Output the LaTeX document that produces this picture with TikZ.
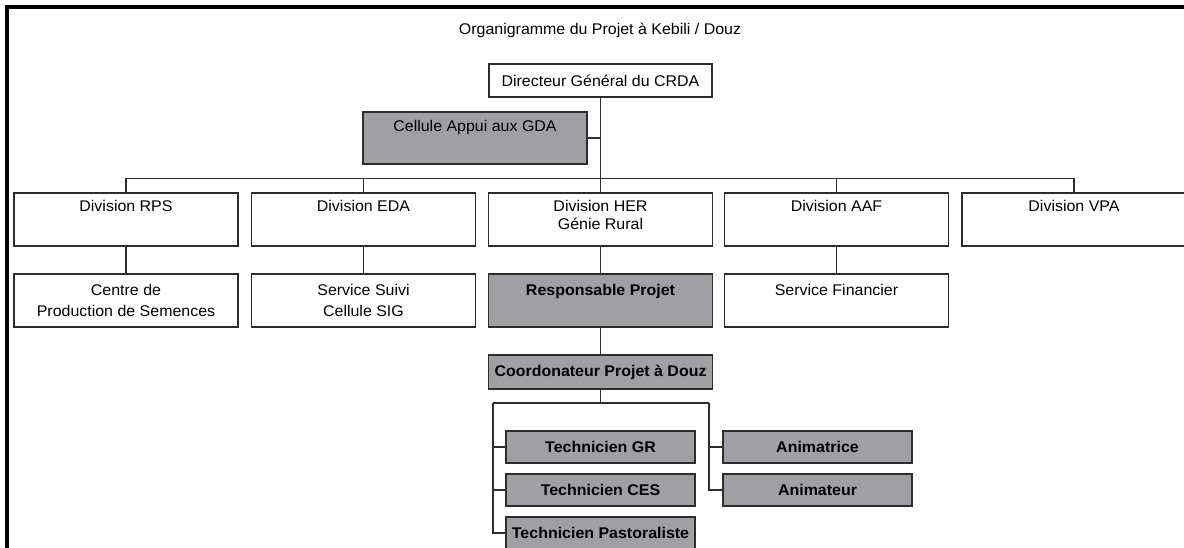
\documentclass[tikz,border=0pt]{standalone}
\usepackage{fontspec}
\setmainfont{Liberation Sans}[FakeStretch=1.03]
\usepackage{xcolor}
\usepackage{tikz}
\definecolor{cellgray}{RGB}{160, 160, 164}
\definecolor{linegray}{RGB}{45, 45, 45}

\newcommand{\toptext}[4]{\parbox[c][#2][t]{#1}{\centering\vspace*{#3}\strut#4\par}}
\newcommand{\midtext}[3]{\parbox[c][#2][c]{#1}{\centering #3\par}}

\begin{document}
\begin{tikzpicture}[x=1pt, y=-1pt,
    every node/.style={font=\fontsize{15.5}{18}\selectfont},
    unit/.style={draw=linegray, line width=1.3pt, inner sep=0pt, fill=white},
    grayunit/.style={unit, fill=cellgray},
    conn/.style={draw=linegray, line width=1.1pt},
    frame/.style={draw=black, line width=4.5pt}]
    \useasboundingbox (0,0) rectangle (1184,548);
    \clip (0,0) rectangle (1184,548);

    \draw[frame] (7,560) -- (7,7) -- (1190,7);
    \node[anchor=base] (title) at (600,35) {Organigramme du Projet à Kebili / Douz};

    % direction
    \node[unit] (dg) at (600.5,80.5) {\midtext{223pt}{33pt}{Directeur Général du CRDA}};
    \node[grayunit] (cellule) at (475,138) {\toptext{224pt}{52pt}{7.1pt}{Cellule Appui aux GDA}};

    % divisions
    \node[unit] (rps) at (126,219.5) {\toptext{224pt}{53pt}{6.4pt}{Division RPS}};
    \node[unit] (eda) at (363.5,219.5) {\toptext{224pt}{53pt}{6.4pt}{Division EDA}};
    \node[unit] (her) at (600.5,219.5) {\toptext{224pt}{53pt}{6.4pt}{Division HER\\Génie Rural}};
    \node[unit] (aaf) at (836.5,219.5) {\toptext{224pt}{53pt}{6.4pt}{Division AAF}};
    \node[unit] (vpa) at (1074,219.5) {\toptext{224pt}{53pt}{6.4pt}{Division VPA}};

    % services
    \node[unit] (cps) at (126,300.5) {\toptext{224pt}{53pt}{9.4pt}{Centre de\\[2.7pt]Production de Semences}};
    \node[unit] (suivi) at (363.5,300.5) {\toptext{224pt}{53pt}{9.4pt}{Service Suivi\\[2.7pt]Cellule SIG}};
    \node[grayunit] (resp) at (600.5,300.5) {\toptext{224pt}{53pt}{9.4pt}{\textbf{Responsable Projet}}};
    \node[unit] (fin) at (836.5,300.5) {\toptext{224pt}{53pt}{9.4pt}{Service Financier}};

    % equipe Douz
    \node[grayunit] (coord) at (600.5,372) {\midtext{224pt}{34pt}{\textbf{Coordonateur Projet à Douz}}};
    \node[grayunit] (gr) at (600.5,447) {\midtext{189pt}{32pt}{\textbf{Technicien GR}}};
    \node[grayunit] (ces) at (600.5,490) {\midtext{189pt}{32pt}{\textbf{Technicien CES}}};
    \node[grayunit] (past) at (600.5,533) {\midtext{189pt}{32pt}{\textbf{Technicien Pastoraliste}}};
    \node[grayunit] (animatrice) at (817.5,447) {\midtext{189pt}{32pt}{\textbf{Animatrice}}};
    \node[grayunit] (animateur) at (817.5,490) {\midtext{189pt}{32pt}{\textbf{Animateur}}};

    % liaisons
    \draw[conn] (dg.south) -- ([yshift=14pt]her.north) -- (her.north);
    \draw[conn] (cellule.east) -- (cellule.east -| dg.south);
    \draw[conn] ([yshift=14pt]rps.north) -- ([yshift=14pt]vpa.north);
    \foreach \d in {rps,eda,aaf,vpa}
        \draw[conn] ([yshift=14pt]\d.north) -- (\d.north);
    \foreach \a/\b in {rps/cps,eda/suivi,her/resp,aaf/fin}
        \draw[conn] (\a.south) -- (\b.north);
    \draw[conn] (resp.south) -- (coord.north);

    \coordinate (lrail) at (493,403);
    \coordinate (rrail) at (709,403);
    \draw[conn] (coord.south) -- (coord.south |- lrail);
    \draw[conn] (lrail) -- (rrail);
    \draw[conn] (lrail) |- (past.west);
    \draw[conn] (lrail |- gr.west) -- (gr.west);
    \draw[conn] (lrail |- ces.west) -- (ces.west);
    \draw[conn] (rrail) |- (animateur.west);
    \draw[conn] (rrail |- animatrice.west) -- (animatrice.west);
\end{tikzpicture}
\end{document}
